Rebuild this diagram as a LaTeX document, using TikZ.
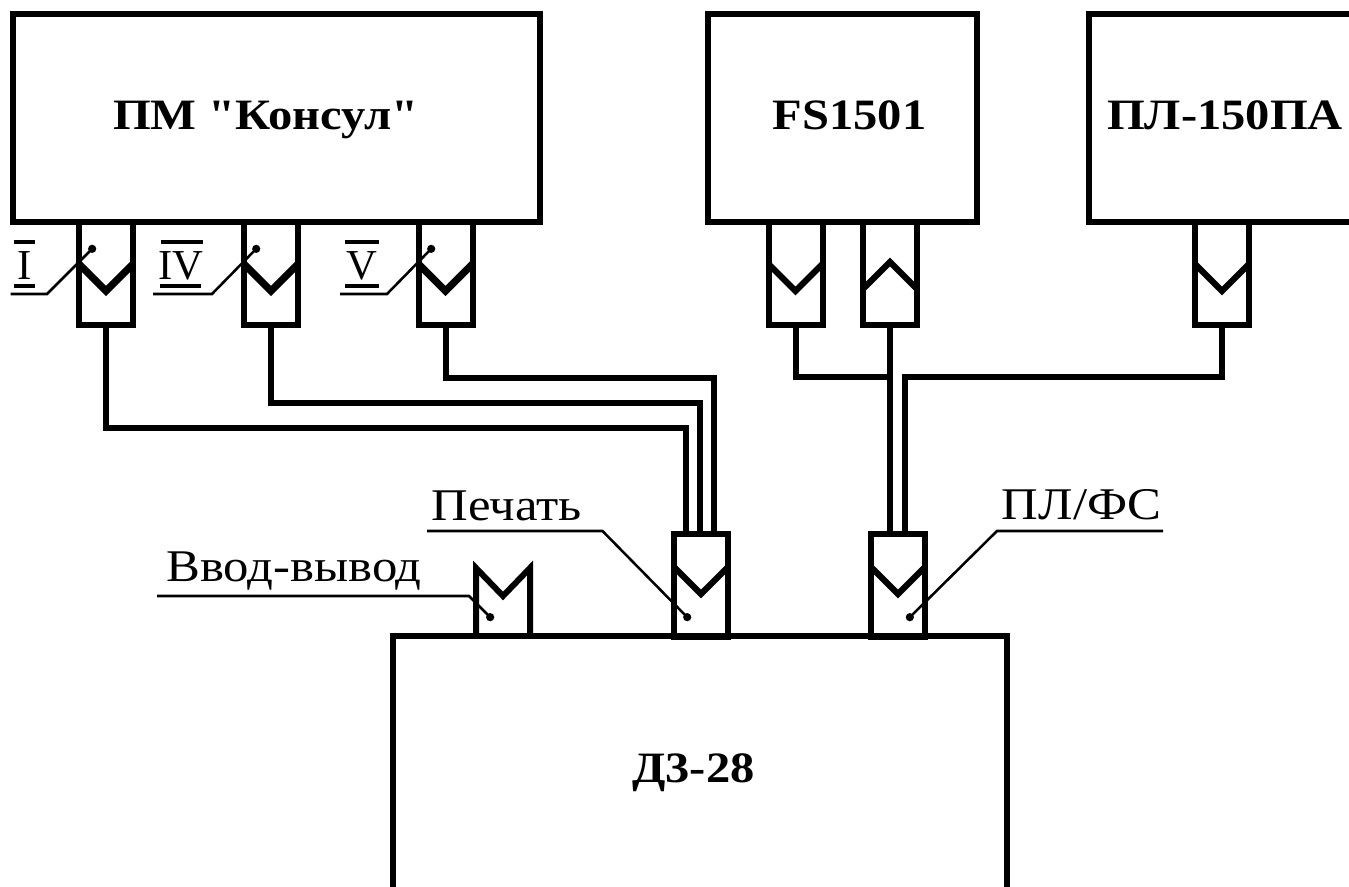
\documentclass[tikz,border=0pt]{standalone}
\usepackage{fontspec}
\setmainfont[FakeStretch=1.12,Ligatures=TeXOff]{Liberation Serif}
\newfontfamily\rimfont{Liberation Serif}
\usetikzlibrary{arrows.meta,positioning,calc}

\tikzset{
  blok/.style 2 args={draw,line width=4.5pt,minimum width=#1*0.75pt,minimum height=#2*0.75pt,inner sep=0pt,outer sep=0pt},
  gnezdo/.style={blok={54}{103}},
  provod/.style={line width=4.5pt,miter limit=10},
  ugol/.style={line width=4.7pt},
  vynoska/.style={line width=1.9pt,{Circle[length=6pt]}-},
  cherta/.style={line width=3pt},
  titul/.style={font=\bfseries\fontsize{32.5pt}{33pt}\selectfont,anchor=base,inner sep=0pt},
  podpis/.style={font=\fontsize{34pt}{34pt}\selectfont,anchor=base,inner sep=0pt},
  rim/.style={font=\rimfont\fontsize{32pt}{32pt}\selectfont,anchor=base,inner sep=0pt},
}

\begin{document}
\begin{tikzpicture}[x=0.75pt,y=-0.75pt]
  \useasboundingbox (0,0) rectangle (1349,887);
  % bloki
  \node[blok={527}{208}] (pm) at (276.5,118) {};
  \node[blok={269}{208}] (fs) at (842.5,118) {};
  \node[blok={290}{208}] (pl) at (1234,118) {};
  \node[blok={614}{258}] (dz) at (700,765) {};
  \node[titul] (pmtext) at (266,130) {ПМ "Консул"};
  \node[titul] (fstext) at (849.5,130) {FS1501};
  \node[titul] (pltext) at (1225,129.5) {ПЛ-150ПА};
  \node[titul] (dztext) at (693.5,782) {Д3-28};
  % gnezda
  \node[gnezdo] (sockI) at (106,273.5) {};
  \node[gnezdo] (sockIV) at (271,273.5) {};
  \node[gnezdo] (sockV) at (445.5,273.5) {};
  \node[gnezdo] (sockfsa) at (795.5,273.5) {};
  \node[gnezdo] (sockfsb) at (890,273.5) {};
  \node[gnezdo] (sockpl) at (1222,273.5) {};
  \node[gnezdo] (sockpe) at (701,585) {};
  \node[gnezdo] (sockpf) at (898,585) {};
  \foreach \x/\y in {795.5/264,1222/264,701/567,898/567}
    \draw[ugol] (\x-27,\y)--(\x,\y+27)--(\x+27,\y);
  \foreach \x/\y in {106/264,271/264,445.5/264}
    \draw[ugol,line width=5.4pt] (\x-27,\y)--(\x,\y+27)--(\x+27,\y);
  \draw[ugol] (863,289)--(890,262)--(917,289);
  \draw[provod] (476,636)--(476,568)--(503,596)--(530,568)--(530,636);
  % provoda
  \coordinate (inI) at (686,534);
  \coordinate (inIV) at (700,534);
  \coordinate (inV) at (714,534);
  \coordinate (inpl) at (905,534);
  \coordinate (infs) at (890,534);
  \draw[provod] (sockI.south)--++(0,103)-|(inI);
  \draw[provod] (sockIV.south)--++(0,78)-|(inIV);
  \draw[provod] (sockV.south)--++(0,53)-|(inV);
  \draw[provod] (sockfsa.south)--++(0,52)-|(sockfsb.south);
  \draw[provod] (sockfsb.south)--(infs);
  \draw[provod] (sockpl.south)--++(0,52)-|(inpl);
  % vynoski
  \coordinate (dotI) at (95,246);
  \coordinate (dotIV) at (259,246);
  \coordinate (dotV) at (434,246);
  \coordinate (dotvv) at (493,620);
  \coordinate (dotpe) at (690,620);
  \coordinate (dotpf) at (907,620);
  \draw[vynoska] (dotI)--(47,294)--(10.5,294);
  \draw[vynoska] (dotIV)--(212,294)--(153,294);
  \draw[vynoska] (dotV)--(387,294)--(340,294);
  \draw[vynoska] (dotvv)--(469,596)--(157,596);
  \draw[vynoska] (dotpe)--(602.5,531)--(427,531);
  \draw[vynoska] (dotpf)--(997,531)--(1163,531);
  % podpisi
  \node[rim] (labI) at (25,280) {I};
  \node[rim] (labIV) at (181,280) {IV};
  \node[rim] (labV) at (362,280) {V};
  \draw[cherta] (14,242)--(35,242) (14,286)--(35,286);
  \draw[cherta] (161,242)--(203,242) (160,286)--(201,286);
  \draw[cherta] (345,242)--(379,242) (345,286)--(379,286);
  \node[podpis] (labvv) at (294,581.5) {Ввод-вывод};
  \node[podpis] (labpe) at (507,520.5) {Печать};
  \node[podpis] (labpf) at (1081.5,519) {ПЛ/ФС};
\end{tikzpicture}
\end{document}
